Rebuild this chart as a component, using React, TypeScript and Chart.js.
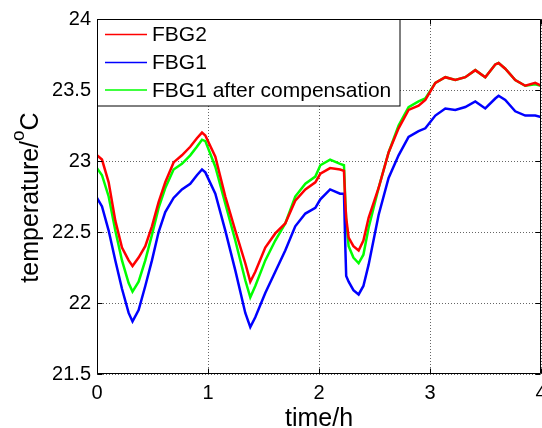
import React, { useEffect, useRef } from "react";
import { Chart, registerables } from "chart.js";

Chart.register(...registerables);

const TIME = [0, 0.045, 0.105, 0.165, 0.225, 0.285, 0.32, 0.375, 0.435, 0.495, 0.555, 0.615, 0.69, 0.765, 0.84, 0.9, 0.946,
  0.976, 1.066, 1.156, 1.246, 1.336, 1.381, 1.426, 1.516, 1.606, 1.696, 1.786, 1.877, 1.967,
  2.012, 2.1, 2.19, 2.225, 2.237, 2.245, 2.267, 2.31, 2.357, 2.4, 2.447, 2.537, 2.627, 2.717, 2.807, 2.897,
  2.958, 3.048, 3.138, 3.228, 3.318, 3.408, 3.498, 3.588, 3.618, 3.678, 3.768, 3.858, 3.948, 4.0];

const FBG2 = [23.04, 23.01, 22.85, 22.58, 22.39, 22.30, 22.26, 22.32, 22.40, 22.54, 22.71, 22.85, 22.99, 23.04, 23.10, 23.16, 23.20,
  23.18, 23.03, 22.75, 22.51, 22.28, 22.15, 22.22, 22.39, 22.49, 22.56, 22.72, 22.80, 22.85,
  22.91, 22.95, 22.94, 22.93, 22.70, 22.60, 22.46, 22.40, 22.37, 22.44, 22.60, 22.81, 23.06, 23.23, 23.36, 23.39,
  23.43, 23.55, 23.59, 23.57, 23.59, 23.64, 23.59, 23.68, 23.69, 23.65, 23.57, 23.53, 23.55, 23.53];

const FBG1 = [22.74, 22.68, 22.51, 22.30, 22.10, 21.93, 21.87, 21.95, 22.12, 22.30, 22.50, 22.64, 22.74, 22.80, 22.84, 22.90, 22.94,
  22.92, 22.77, 22.51, 22.23, 21.93, 21.83, 21.90, 22.07, 22.22, 22.37, 22.54, 22.63, 22.67,
  22.73, 22.80, 22.77, 22.77, 22.40, 22.19, 22.15, 22.09, 22.06, 22.12, 22.27, 22.62, 22.88, 23.04, 23.17, 23.21,
  23.23, 23.32, 23.37, 23.36, 23.38, 23.42, 23.37, 23.44, 23.46, 23.43, 23.35, 23.32, 23.32, 23.31];

const FBG1_COMP = [22.95, 22.90, 22.75, 22.51, 22.30, 22.14, 22.08, 22.15, 22.30, 22.48, 22.67, 22.81, 22.94, 22.98, 23.04, 23.10, 23.15,
  23.14, 22.96, 22.70, 22.44, 22.16, 22.04, 22.12, 22.30, 22.44, 22.56, 22.75, 22.84, 22.89,
  22.97, 23.01, 22.98, 22.97, 22.72, 22.58, 22.40, 22.32, 22.28, 22.34, 22.53, 22.81, 23.06, 23.25, 23.38, 23.42,
  23.44, 23.55, 23.59, 23.57, 23.59, 23.64, 23.59, 23.68, 23.69, 23.65, 23.57, 23.53, 23.54, 23.53];

const SERIES_LABELS = ["FBG2", "FBG1", "FBG1 after compensation"];
const SERIES_COLORS = ["#ff0000", "#0000ff", "#00ff00"];
const X_TICKS = [0, 1, 2, 3, 4];
const Y_TICKS = [21.5, 22, 22.5, 23, 23.5, 24];
const X_TITLE = "time/h";
const Y_TITLE_MAIN = "temperature/";
const Y_TITLE_SUP = "o";
const Y_TITLE_END = "C";

const FONT = '"Liberation Sans", Arial, sans-serif';

const gridPlugin = {
  id: "matlabGrid",
  beforeDatasetsDraw(chart: any) {
    const { ctx, chartArea: a, scales } = chart;
    ctx.save();
    ctx.strokeStyle = "rgba(0,0,0,0.6)";
    ctx.lineWidth = 1;
    ctx.setLineDash([1, 2]);
    ctx.beginPath();
    for (const v of X_TICKS) {
      const p = Math.round(scales.x.getPixelForValue(v)) + 0.5;
      ctx.moveTo(p, a.top);
      ctx.lineTo(p, a.bottom);
    }
    for (const v of Y_TICKS) {
      const p = Math.round(scales.y.getPixelForValue(v)) + 0.5;
      ctx.moveTo(a.left, p);
      ctx.lineTo(a.right, p);
    }
    ctx.stroke();
    ctx.restore();
  },
};

const framePlugin = {
  id: "matlabFrame",
  afterDatasetsDraw(chart: any) {
    const { ctx, chartArea: a, scales } = chart;
    const xs = scales.x;
    const ys = scales.y;
    ctx.save();
    ctx.strokeStyle = "#000";
    ctx.lineWidth = 1;
    ctx.setLineDash([]);
    const L = Math.round(a.left) + 0.5;
    const R = Math.round(a.right) - 0.5;
    const T = Math.round(a.top) + 0.5;
    const B = Math.round(a.bottom) - 0.5;
    ctx.beginPath();
    for (const v of X_TICKS) {
      const p = Math.round(xs.getPixelForValue(v)) + 0.5;
      ctx.moveTo(p, B); ctx.lineTo(p, B - 5);
      ctx.moveTo(p, T); ctx.lineTo(p, T + 5);
    }
    for (const v of Y_TICKS) {
      const p = Math.round(ys.getPixelForValue(v)) + 0.5;
      ctx.moveTo(L, p); ctx.lineTo(L + 5, p);
      ctx.moveTo(R, p); ctx.lineTo(R - 5, p);
    }
    ctx.stroke();
    ctx.beginPath();
    ctx.rect(L, T, R - L, B - T);
    ctx.stroke();

    // legend
    const lx = L, ly = T, lw = 400 - L, lh = 106 - T;
    ctx.fillStyle = "#fff";
    ctx.fillRect(lx, ly, lw, lh);
    ctx.strokeStyle = "#000";
    ctx.strokeRect(lx, ly, lw, lh);
    const rowsY = [35.5, 63.5, 91];
    chart.data.datasets.forEach((ds: any, i: number) => {
      const y = rowsY[i];
      ctx.strokeStyle = ds.borderColor;
      ctx.lineWidth = 1.5;
      ctx.beginPath();
      ctx.moveTo(105, y - 1);
      ctx.lineTo(147, y - 1);
      ctx.stroke();
      ctx.fillStyle = "#000";
      ctx.font = `21px ${FONT}`;
      ctx.textAlign = "left";
      ctx.textBaseline = "middle";
      ctx.fillText(ds.label, 152, y);
    });

    // x title
    ctx.fillStyle = "#000";
    ctx.font = `25px ${FONT}`;
    ctx.textAlign = "center";
    ctx.textBaseline = "alphabetic";
    ctx.fillText(X_TITLE, (a.left + a.right) / 2, 426);

    // y title with superscript
    ctx.save();
    ctx.translate(38, (a.top + a.bottom) / 2 + 1);
    ctx.rotate(-Math.PI / 2);
    ctx.textAlign = "left";
    ctx.textBaseline = "alphabetic";
    ctx.font = `25px ${FONT}`;
    const w1 = ctx.measureText(Y_TITLE_MAIN).width;
    const w3 = ctx.measureText(Y_TITLE_END).width;
    ctx.font = `19px ${FONT}`;
    const w2 = ctx.measureText(Y_TITLE_SUP).width;
    let x0 = -(w1 + w2 + w3) / 2;
    ctx.font = `25px ${FONT}`;
    ctx.fillText(Y_TITLE_MAIN, x0, 0);
    x0 += w1;
    ctx.font = `19px ${FONT}`;
    ctx.fillText(Y_TITLE_SUP, x0, -14);
    x0 += w2;
    ctx.font = `25px ${FONT}`;
    ctx.fillText(Y_TITLE_END, x0, 0);
    ctx.restore();

    ctx.restore();
  },
};

export default function App() {
  const ref = useRef<HTMLCanvasElement | null>(null);
  useEffect(() => {
    document.body.style.margin = "0";
    const canvas = ref.current;
    if (!canvas) return;
    const series = [FBG2, FBG1, FBG1_COMP];
    const chart = new Chart(canvas, {
      type: "line",
      data: {
        datasets: series.map((vals, i) => ({
          label: SERIES_LABELS[i],
          data: TIME.map((t, j) => ({ x: t, y: vals[j] })),
          borderColor: SERIES_COLORS[i],
          backgroundColor: SERIES_COLORS[i],
          borderWidth: 2.5,
          pointRadius: 0,
          tension: 0,
          fill: false,
        })),
      },
      options: {
        responsive: false,
        animation: false,
        devicePixelRatio: 1,
        layout: { padding: { top: 19, right: 1, left: 0, bottom: 0 } },
        plugins: { legend: { display: false }, tooltip: { enabled: false } },
        scales: {
          x: {
            type: "linear",
            min: 0,
            max: 4,
            afterBuildTicks: (s: any) => { s.ticks = X_TICKS.map((v) => ({ value: v })); },
            ticks: { color: "#000", font: { size: 20, family: FONT }, padding: 7, maxRotation: 0, autoSkip: false, callback: (v: any) => String(v) },
            grid: { display: false, drawTicks: false },
            border: { display: false },
            afterFit: (s: any) => { s.height = 54; s.paddingLeft = 0; s.paddingRight = 0; },
          },
          y: {
            type: "linear",
            min: 21.5,
            max: 24,
            afterBuildTicks: (s: any) => { s.ticks = Y_TICKS.map((v) => ({ value: v })); },
            ticks: { color: "#000", font: { size: 20, family: FONT }, padding: 6, callback: (v: any) => String(v) },
            grid: { display: false, drawTicks: false },
            border: { display: false },
            afterFit: (s: any) => { s.width = 97; s.paddingTop = 0; s.paddingBottom = 0; },
          },
        },
      },
      plugins: [gridPlugin, framePlugin],
    } as any);
    return () => chart.destroy();
  }, []);
  return (
    <div style={{ position: "relative", width: 542, height: 428 }}>
      <canvas ref={ref} width={542} height={428} style={{ display: "block" }} />
    </div>
  );
}
